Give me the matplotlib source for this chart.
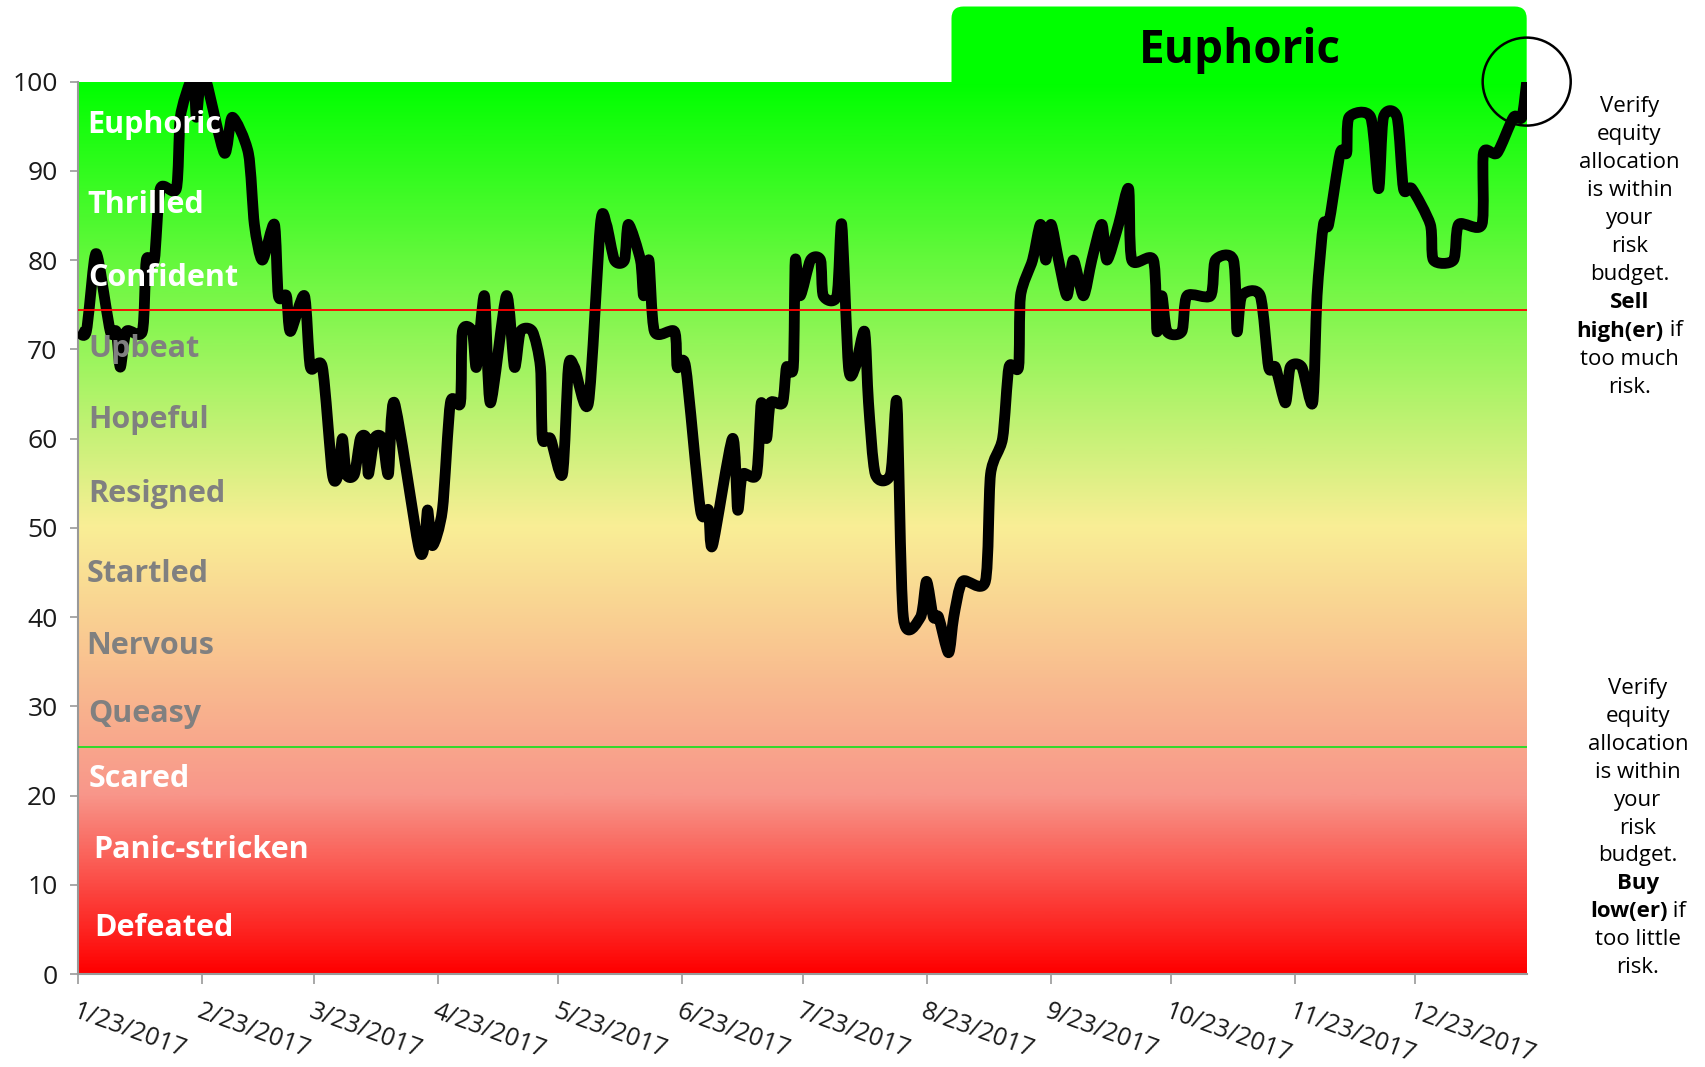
import matplotlib
matplotlib.use("Agg")
import matplotlib.pyplot as plt
import matplotlib.dates as mdates
from matplotlib.colors import LinearSegmentedColormap
from matplotlib.patches import FancyBboxPatch, Ellipse, PathPatch
from matplotlib.path import Path
from matplotlib.offsetbox import TextArea, HPacker, AnnotationBbox
import numpy as np
import pandas as pd

plt.rcParams['font.family'] = ['Open Sans', 'DejaVu Sans']

# ---- data ----
start = pd.Timestamp('2017-01-23')
# days since 1/23/2017 and the mood score at that day
days = [0, 2, 4, 5, 8, 9.5, 10.5, 12, 16, 17, 19, 20.5, 24.5, 25.5, 28, 29, 29.5, 30.5, 32,
        36.5, 38.5, 42.5, 44, 46, 49, 50, 52, 53, 56.5, 58, 61, 63.5, 65, 66, 67, 69, 70.5,
        72, 72.5, 74, 76, 77.5, 79, 85, 86.5, 87.3, 88.5, 91, 93, 95.5, 96, 98.5, 99.5,
        101.5, 103, 107, 109, 110.5, 113.5, 115.5, 116, 118, 121, 122.5, 124, 127.5, 130.5,
        132, 134, 136.5, 137.5, 140.5, 141.3, 142.6, 144, 149, 149.7, 151.8, 155.5, 157.5,
        158.5, 163.5, 164.8, 166, 169.5, 170.7, 172, 173, 176, 177, 178.7, 179.2, 180.4, 183,
        185.5, 186.2, 189.6, 190.8, 192.5, 194.2, 196.5, 197.5, 199.2, 203, 204.6, 206.2,
        210.5, 212, 213.7, 215, 217.5, 218.8, 221, 226.7, 228, 231, 232.6, 235, 235.5, 238.5,
        240.5, 241.8, 243.1, 245, 247.1, 248.7, 251.2, 253.3, 255.8, 257.1, 260, 262.5, 263.3,
        268.7, 269.6, 270.8, 272.1, 275.8, 277.1, 283, 284.2, 288.7, 289.6, 290.8, 295.4,
        297.5, 299.2, 301.7, 302.9, 305.8, 308.5, 309.6, 311.2, 312.5, 315.4, 317, 317.6, 323,
        325, 326.2, 329.6, 331.2, 333.3, 337.9, 338.7, 343.7, 345, 350.8, 351.2, 354.6, 358.7,
        360.8, 362]
score = [72, 72, 80, 80, 72, 72, 68, 72, 72, 80, 80, 88, 88, 96, 100, 100, 96, 100, 100,
         92, 96, 92, 84, 80, 84, 76, 76, 72, 76, 68, 68, 56, 56, 60, 56, 56, 60,
         60, 56, 60, 60, 56, 64, 48, 48, 52, 48, 52, 64, 64, 72, 72, 68,
         76, 64, 76, 68, 72, 72, 68, 60, 60, 56, 68, 68, 64, 84,
         84, 80, 80, 84, 80, 76, 80, 72, 72, 68, 68, 52, 52,
         48, 60, 52, 56, 56, 64, 60, 64, 64, 68, 68, 80, 76, 80,
         80, 76, 76, 84, 68, 68, 72, 64, 56, 56, 64, 40,
         40, 44, 40, 40, 36, 40, 44, 44, 56, 60, 68, 68, 76, 80,
         84, 80, 84, 80, 76, 80, 76, 80, 84, 80, 84, 88, 80,
         80, 72, 76, 72, 72, 76, 76, 80, 80, 72, 76, 76,
         68, 68, 64, 68, 68, 64, 76, 84, 84, 92, 92, 96, 96,
         88, 96, 96, 88, 88, 84, 80, 80, 84, 84, 92, 92, 96,
         96, 100]
tick_labels = ['1/23/2017', '2/23/2017', '3/23/2017', '4/23/2017', '5/23/2017', '6/23/2017',
               '7/23/2017', '8/23/2017', '9/23/2017', '10/23/2017', '11/23/2017', '12/23/2017']
moods = ['Euphoric', 'Thrilled', 'Confident', 'Upbeat', 'Hopeful', 'Resigned', 'Startled',
         'Nervous', 'Queasy', 'Scared', 'Panic-stricken', 'Defeated']
sell_line = 74.4
buy_line = 25.4
span_days = 362

sell_note = [[('Verify', 'normal')], [('equity', 'normal')], [('allocation', 'normal')],
             [('is within', 'normal')], [('your', 'normal')], [('risk', 'normal')],
             [('budget.', 'normal')], [('Sell', 'bold')],
             [('high(er)', 'bold'), (' if', 'normal')], [('too much', 'normal')],
             [('risk.', 'normal')]]
buy_note = [[('Verify', 'normal')], [('equity', 'normal')], [('allocation', 'normal')],
            [('is within', 'normal')], [('your', 'normal')], [('risk', 'normal')],
            [('budget.', 'normal')], [('Buy', 'bold')],
            [('low(er)', 'bold'), (' if', 'normal')], [('too little', 'normal')],
            [('risk.', 'normal')]]

# ---- layout ----
W, H = 1705, 1067
fig = plt.figure(figsize=(W / 100, H / 100), dpi=100)
ax = fig.add_axes([78.3 / W, 93 / H, 1448.4 / W, 892.4 / H])

x0 = mdates.date2num(start)
x1 = x0 + span_days
xs = x0 + np.array(days, dtype=float)
ys = np.array(score, dtype=float)

cmap = LinearSegmentedColormap.from_list(
    'mood', [(0, '#ff0000'), (0.2, '#f8968a'), (0.5, '#faee96'), (1, '#00ff00')])
grad = np.linspace(0, 1, 512).reshape(-1, 1)
ax.imshow(grad, extent=[x0, x1, 0, 100], origin='lower', aspect='auto',
          cmap=cmap, zorder=0, interpolation='bilinear')

# smoothed line like the spreadsheet's "smoothed line" option (bezier through the points)
pts = np.column_stack([xs, ys])
ext = np.vstack([pts[0], pts, pts[-1]])
verts = [pts[0]]
codes = [Path.MOVETO]
for i in range(len(pts) - 1):
    p0, p1, p2, p3 = ext[i], ext[i + 1], ext[i + 2], ext[i + 3]
    verts += [p1 + (p2 - p0) / 8, p2 - (p3 - p1) / 8, p2]
    codes += [Path.CURVE4] * 3
ax.add_patch(PathPatch(Path(verts, codes), facecolor='none', edgecolor='black', lw=7.8,
                       joinstyle='round', capstyle='butt', zorder=3))
ax.axhline(sell_line, color='#ff0000', lw=1.3, zorder=4)
ax.axhline(buy_line, color='#22dd22', lw=1.3, zorder=4)

ax.set_xlim(x0, x1)
ax.set_ylim(0, 100)
ax.set_yticks(range(0, 101, 10))
tick_dates = pd.to_datetime(tick_labels, format='%m/%d/%Y')
ax.set_xticks(mdates.date2num(tick_dates))
ax.set_xticklabels(tick_labels, rotation=-20, ha='left', va='top', rotation_mode='anchor')

for s in ['top', 'right']:
    ax.spines[s].set_visible(False)
for s in ['left', 'bottom']:
    ax.spines[s].set_color('#999999')
    ax.spines[s].set_linewidth(1.5)
ax.tick_params(axis='y', length=6, width=1.2, color='#999999', pad=9,
               labelsize=19, labelcolor='#1a1a1a')
ax.tick_params(axis='x', length=7, width=1.2, color='#999999', pad=11,
               labelsize=18, labelcolor='#1a1a1a')

# mood labels inside the plot
mood_y = [95.1, 86.2, 78.0, 70.0, 62.1, 53.8, 44.8, 36.8, 29.1, 21.8, 13.9, 5.2]
mood_x = [87, 87, 88, 88, 88, 88, 87, 86, 88, 89, 93, 94]
for i, m in enumerate(moods):
    col = 'white' if (i < 3 or i > 8) else '#808080'
    ax.text((mood_x[i] - 78.3) / 1448.4, mood_y[i], m, transform=ax.get_yaxis_transform(),
            fontsize=22, fontweight='bold', color=col, va='center', ha='left', zorder=5)

# "Euphoric" tab above the plot
tab = FancyBboxPatch((9.515, 9.3), 5.752, 1.305, boxstyle='round,pad=0,rounding_size=0.12',
                     transform=fig.dpi_scale_trans, facecolor='#00ff00', edgecolor='none',
                     zorder=-1)
fig.patches.append(tab)
fig.text(1239.6 / W, 1 - 50 / H, 'Euphoric', fontsize=33, fontweight='bold',
         color='black', ha='center', va='center')

# circle around the last point
ax.add_patch(Ellipse((x1, 100), width=22, height=9.86, fill=False, lw=1.8,
                     edgecolor='black', clip_on=False, zorder=6))


def note(lines, cx, top, step):
    for k, parts in enumerate(lines):
        boxes = [TextArea(t, textprops=dict(fontsize=16, fontweight=w, color='black'))
                 for t, w in parts]
        pack = HPacker(children=boxes, align='baseline', pad=0, sep=0)
        ab = AnnotationBbox(pack, (cx, H - (top + k * step)), xycoords='figure pixels',
                            box_alignment=(0.5, 0.5), frameon=False, pad=0)
        fig.add_artist(ab)


note(sell_note, 1629.5, 106.6, 28.05)
note(buy_note, 1638.0, 688.3, 27.95)

fig.savefig('out.png', dpi=100)
